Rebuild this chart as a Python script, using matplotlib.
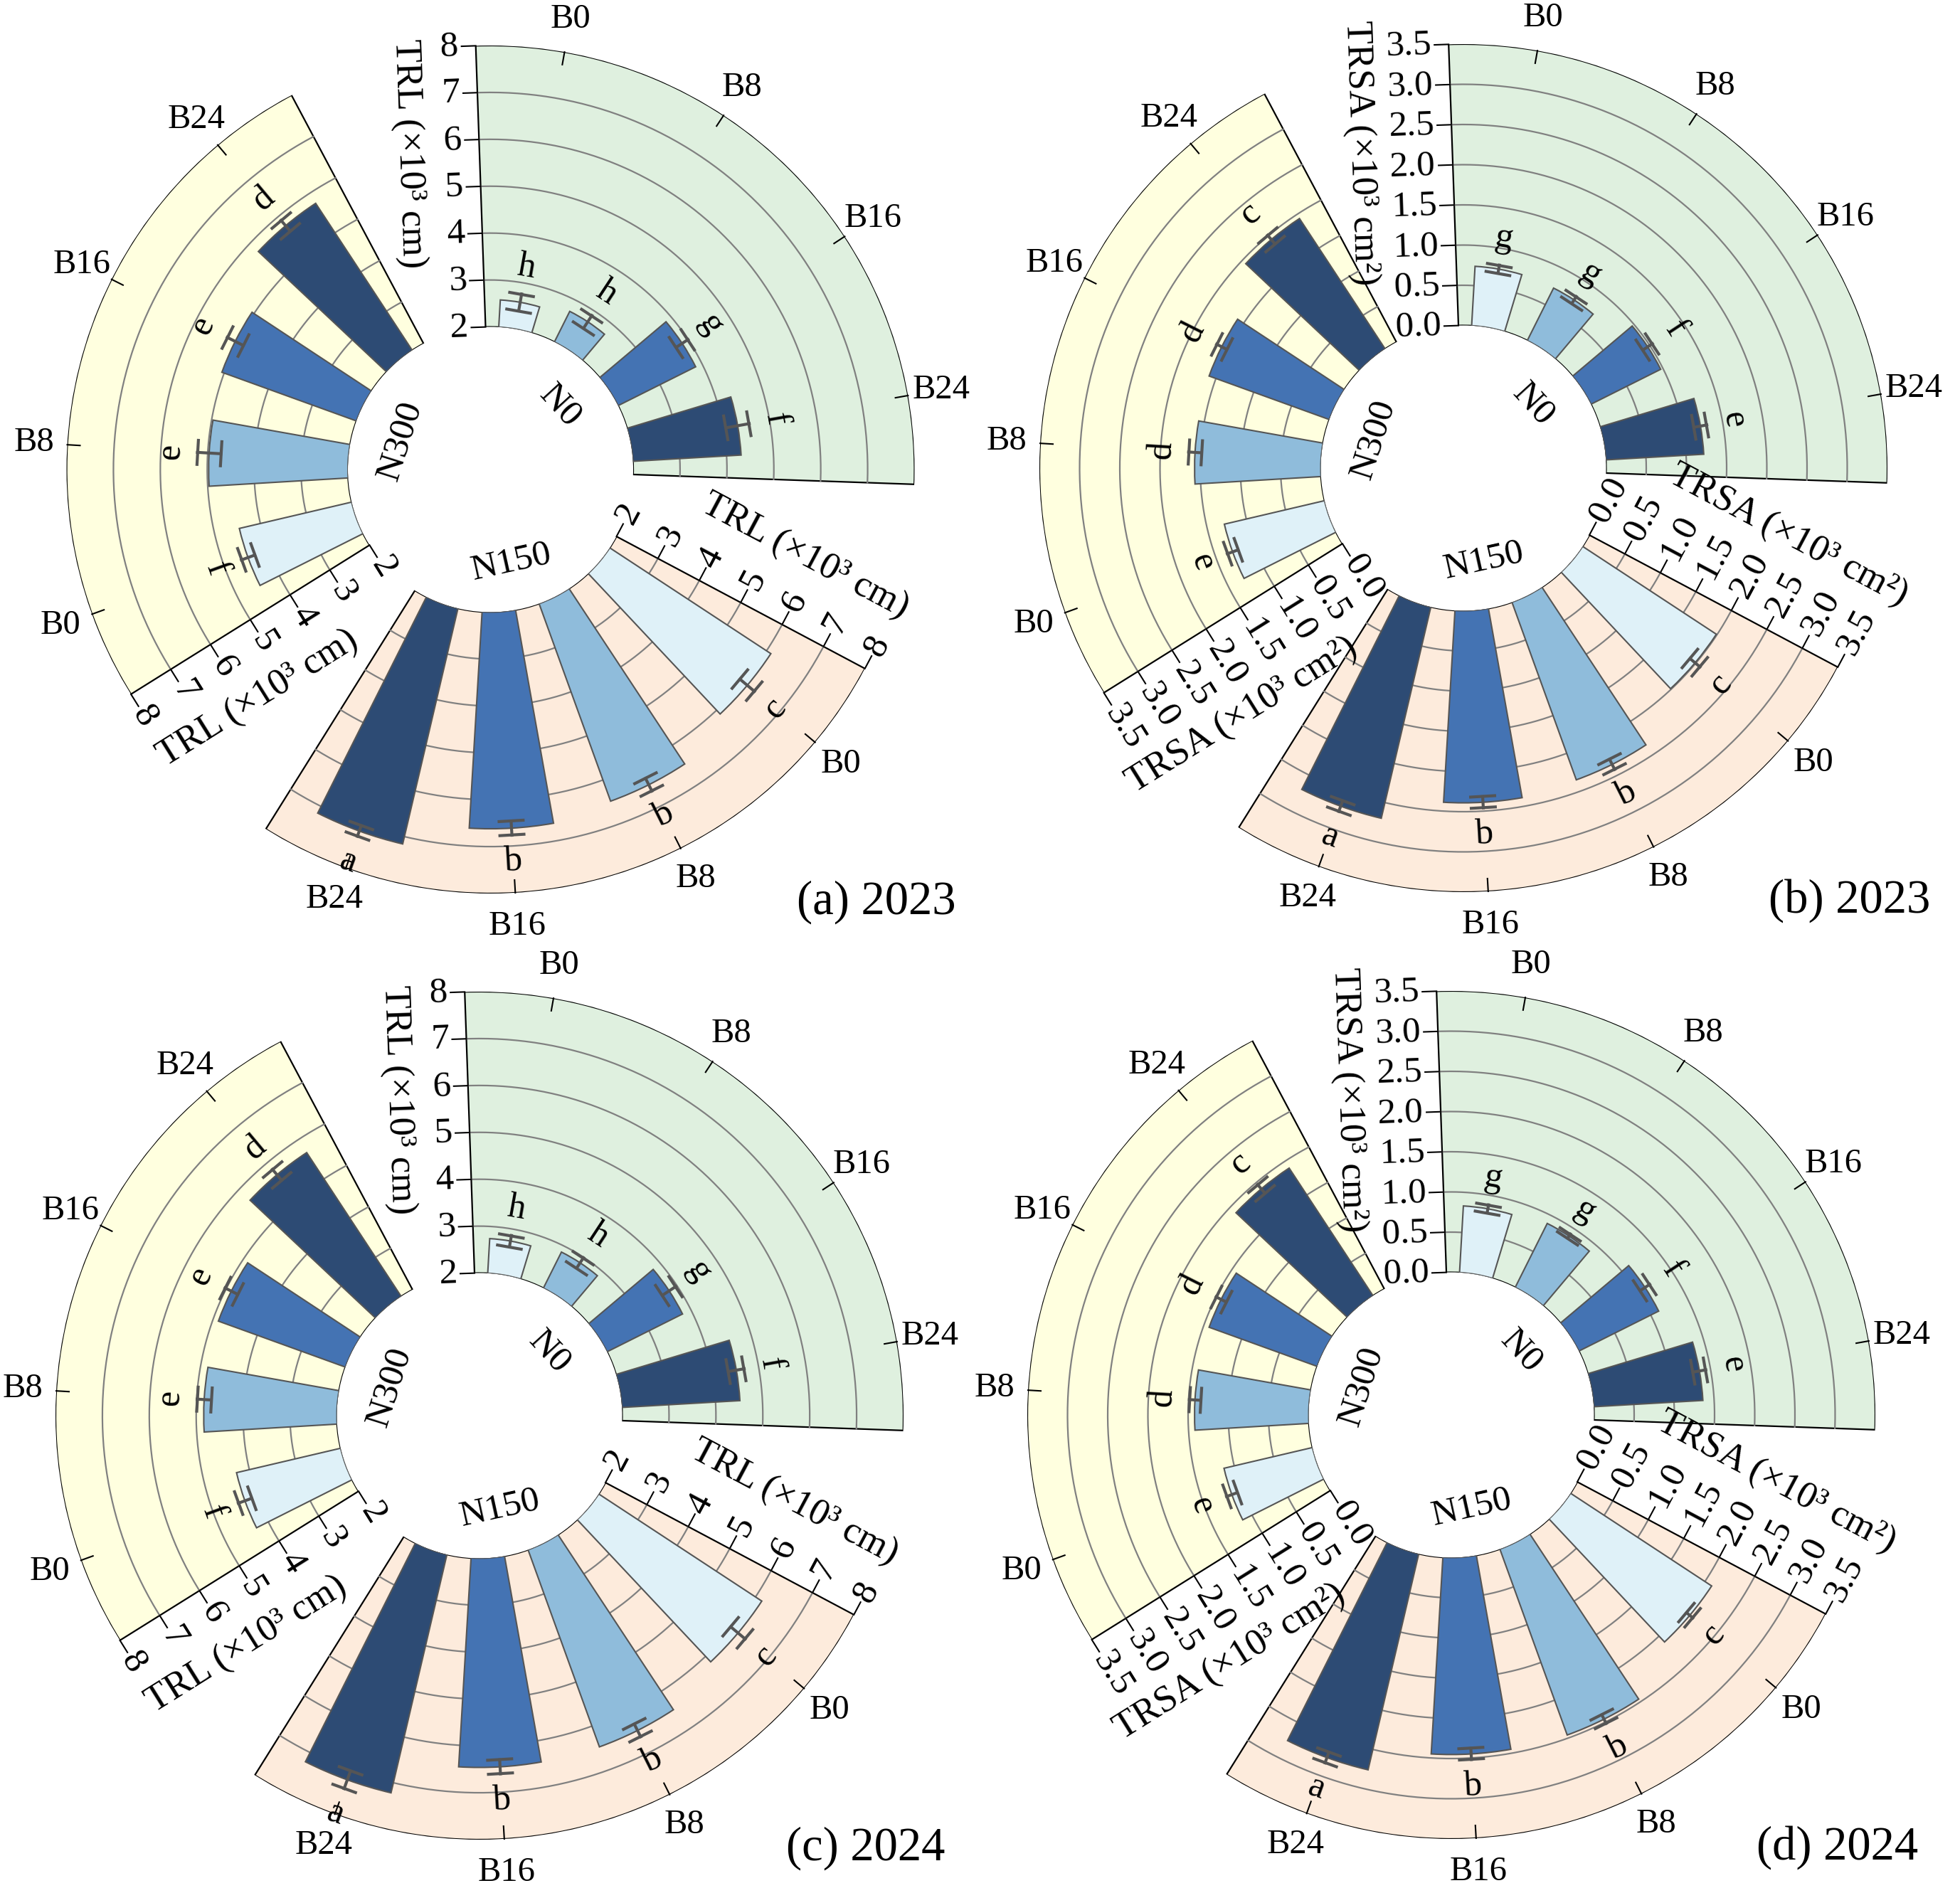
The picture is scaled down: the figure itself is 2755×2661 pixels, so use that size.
import numpy as np
import matplotlib.pyplot as plt

plt.rcParams['font.family'] = ['Liberation Serif', 'DejaVu Serif']

# ---------------- data ----------------
treatments = ['B0', 'B8', 'B16', 'B24']
nitrogen = ['N0', 'N150', 'N300']

# TRL (x10^3 cm), 2023
trl23_N0 = [2.58, 2.73, 3.85, 4.31]
trl23_N150 = [6.11, 6.48, 6.62, 7.16]
trl23_N300 = [4.46, 4.97, 5.05, 5.75]
trl23_N0_err = [0.18, 0.16, 0.15, 0.25]
trl23_N150_err = [0.20, 0.15, 0.15, 0.12]
trl23_N300_err = [0.15, 0.25, 0.19, 0.15]

# TRSA (x10^3 cm2), 2023
trsa23_N0 = [0.74, 0.73, 0.97, 1.22]
trsa23_N150 = [1.99, 2.35, 2.39, 2.70]
trsa23_N300 = [1.28, 1.57, 1.59, 1.94]
trsa23_N0_err = [0.05, 0.05, 0.07, 0.08]
trsa23_N150_err = [0.08, 0.07, 0.07, 0.07]
trsa23_N300_err = [0.07, 0.08, 0.07, 0.07]

# TRL (x10^3 cm), 2024
trl24_N0 = [2.74, 2.86, 3.80, 4.52]
trl24_N150 = [6.16, 6.47, 6.46, 7.22]
trl24_N300 = [4.28, 4.84, 4.88, 5.67]
trl24_N0_err = [0.12, 0.13, 0.17, 0.17]
trl24_N150_err = [0.20, 0.15, 0.15, 0.20]
trl24_N300_err = [0.15, 0.15, 0.15, 0.15]

# TRSA (x10^3 cm2), 2024
trsa24_N0 = [0.83, 0.89, 1.11, 1.36]
trsa24_N150 = [2.10, 2.46, 2.45, 2.76]
trsa24_N300 = [1.13, 1.42, 1.43, 1.90]
trsa24_N0_err = [0.05, 0.03, 0.07, 0.08]
trsa24_N150_err = [0.05, 0.06, 0.07, 0.07]
trsa24_N300_err = [0.07, 0.07, 0.07, 0.07]

# significance letters
trl_letters = {'N0': ['h', 'h', 'g', 'f'], 'N150': ['c', 'b', 'b', 'a'], 'N300': ['f', 'e', 'e', 'd']}
trsa_letters = {'N0': ['g', 'g', 'f', 'e'], 'N150': ['c', 'b', 'b', 'a'], 'N300': ['e', 'd', 'd', 'c']}

trl_ticks = [2, 3, 4, 5, 6, 7, 8]
trsa_ticks = [0.0, 0.5, 1.0, 1.5, 2.0, 2.5, 3.0, 3.5]

# ---------------- style ----------------
bar_colors = ['#dff1f8', '#8fbcdb', '#4473b3', '#2d4b74']
bg_colors = {'N0': '#dff0df', 'N150': '#fdebdc', 'N300': '#ffffdf'}
sector_center = {'N0': 45.0, 'N150': -75.0, 'N300': 165.0}
SECTOR_W = 94.0
SLOT = 23.3
BAR_W = 13.5
ECOL = '#555555'

FS_TICK = 37
FS_TITLE = 38
FS_CAT = 35
FS_LET = 36
FS_GRP = 37
FS_PANEL = 48

W, H = 2755, 2661
R_OUT = 596.0      # px, outer radius of every wheel
R_IN = 200.5       # px, hole radius
PT = 0.72          # points per pixel at dpi 100


def norm_rot(a):
    a = (a + 180) % 360 - 180
    if a > 90:
        a -= 180
    elif a <= -90:
        a += 180
    return a


def draw_panel(ax, vals, errs, letters, ticks, ticklabels, ylabel, title_off,
               panel_label):
    rmin, rmax = ticks[0], ticks[-1]
    ppu = (R_OUT - R_IN) / (rmax - rmin)       # pixels per data unit
    rorig = rmin - R_IN / ppu
    ax.set_ylim(rmin, rmax)
    ax.set_rorigin(rorig)
    ax.axis('off')

    for g in nitrogen:
        c = np.deg2rad(sector_center[g])
        w = np.deg2rad(SECTOR_W)
        # background sector
        ax.bar(c, rmax - rmin, width=w, bottom=rmin, color=bg_colors[g],
               edgecolor='black', lw=1.6, zorder=0.5)
        th = np.linspace(c - w / 2, c + w / 2, 200)
        for t in ticks[1:-1]:
            ax.plot(th, np.full_like(th, t), color='#808080', lw=1.6, zorder=1)

        angles = c + np.deg2rad(np.array([1.5, 0.5, -0.5, -1.5]) * SLOT)
        v = np.array(vals[g])
        e = np.array(errs[g])
        ax.bar(angles, v - rmin, width=np.deg2rad(BAR_W), bottom=rmin,
               color=bar_colors, edgecolor='#555555', lw=1.5, zorder=2)

        for a, vi, ei, lab, name in zip(angles, v, e, letters[g], treatments):
            # error bar with tangential caps
            ax.plot([a, a], [vi - ei, vi + ei], color=ECOL, lw=3, zorder=3)
            for rr in (vi - ei, vi + ei):
                d = 19.0 / ((rr - rorig) * ppu)
                ax.plot([a - d, a + d], [rr, rr], color=ECOL, lw=3, zorder=3,
                        solid_capstyle='butt')
            # letter
            ax.text(a, vi + ei + 38.0 / ppu, lab, fontsize=FS_LET,
                    rotation=norm_rot(np.rad2deg(a) - 90),
                    ha='center', va='center', zorder=4)
            # outer tick + category name
            ax.plot([a, a], [rmax - 18.0 / ppu, rmax], color='black', lw=1.5,
                    clip_on=False, zorder=3)
            ax.text(a, rmax + 47.0 / ppu, name, fontsize=FS_CAT, ha='center',
                    va='center')

        # group label in the hole
        gc = sector_center[g] - 2.5
        ax.text(np.deg2rad(gc), rorig + 133.0 / ppu, g, fontsize=FS_GRP,
                rotation=norm_rot(gc - 90), ha='center', va='center')

        # radial axis on the counter-clockwise edge
        phi_deg = sector_center[g] + SECTOR_W / 2
        phi = np.deg2rad(phi_deg)
        rot_t = norm_rot(phi_deg - 90)
        ha = 'left' if abs((phi_deg + 90 - rot_t) % 360) < 1 else 'right'
        L = 20.0 / ppu
        for t, tl in zip(ticks, ticklabels):
            R = t - rorig
            ax.plot([phi, phi + np.arctan2(L, R)], [t, np.hypot(R, L) + rorig],
                    color='black', lw=1.5, clip_on=False)
            off = 24.0 * PT
            ax.annotate(tl, (phi, t),
                        xytext=(-np.sin(phi) * off, np.cos(phi) * off),
                        textcoords='offset points', rotation=rot_t,
                        rotation_mode='anchor', ha=ha, va='center',
                        fontsize=FS_TICK, annotation_clip=False)
        toff = title_off * PT
        ax.annotate(ylabel, (phi, rorig + 448.0 / ppu),
                    xytext=(-np.sin(phi) * toff, np.cos(phi) * toff),
                    textcoords='offset points', rotation=norm_rot(phi_deg),
                    rotation_mode='anchor', ha='center', va='center',
                    fontsize=FS_TITLE, annotation_clip=False)

    ax.text(0.955, -0.01, panel_label, transform=ax.transAxes,
            fontsize=FS_PANEL, ha='center', va='center')


fig = plt.figure(figsize=(W / 100, H / 100), dpi=100)

centers = {'a': (689.5, 660), 'b': (2057, 658), 'c': (674, 1990), 'd': (2040, 1989)}


def make_ax(key):
    cx, cy = centers[key]
    rect = [(cx - R_OUT) / W, (H - cy - R_OUT) / H, 2 * R_OUT / W, 2 * R_OUT / H]
    return fig.add_axes(rect, projection='polar')


trl_labels = [str(t) for t in trl_ticks]
trsa_labels = ['%.1f' % t for t in trsa_ticks]

draw_panel(make_ax('a'),
           {'N0': trl23_N0, 'N150': trl23_N150, 'N300': trl23_N300},
           {'N0': trl23_N0_err, 'N150': trl23_N150_err, 'N300': trl23_N300_err},
           trl_letters, trl_ticks, trl_labels, 'TRL (×10³ cm)', 100, '(a) 2023')
draw_panel(make_ax('b'),
           {'N0': trsa23_N0, 'N150': trsa23_N150, 'N300': trsa23_N300},
           {'N0': trsa23_N0_err, 'N150': trsa23_N150_err, 'N300': trsa23_N300_err},
           trsa_letters, trsa_ticks, trsa_labels, 'TRSA (×10³ cm²)', 130, '(b) 2023')
draw_panel(make_ax('c'),
           {'N0': trl24_N0, 'N150': trl24_N150, 'N300': trl24_N300},
           {'N0': trl24_N0_err, 'N150': trl24_N150_err, 'N300': trl24_N300_err},
           trl_letters, trl_ticks, trl_labels, 'TRL (×10³ cm)', 100, '(c) 2024')
draw_panel(make_ax('d'),
           {'N0': trsa24_N0, 'N150': trsa24_N150, 'N300': trsa24_N300},
           {'N0': trsa24_N0_err, 'N150': trsa24_N150_err, 'N300': trsa24_N300_err},
           trsa_letters, trsa_ticks, trsa_labels, 'TRSA (×10³ cm²)', 130, '(d) 2024')

fig.savefig('out.png', dpi=100)
